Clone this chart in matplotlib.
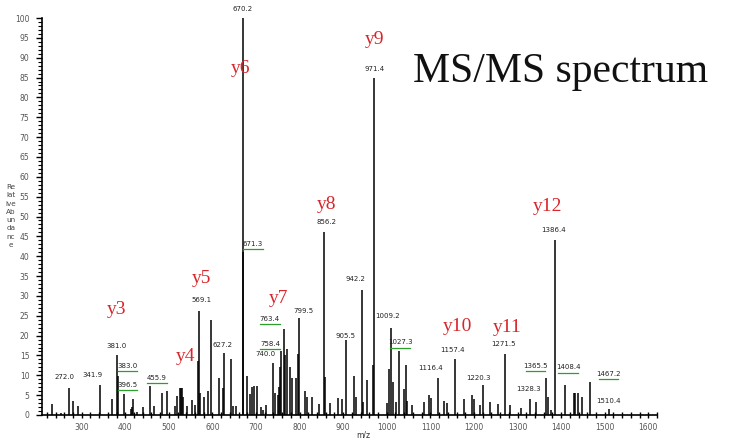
import matplotlib
matplotlib.use("Agg")
import matplotlib.pyplot as plt
from matplotlib.ticker import MultipleLocator, FixedLocator

# ---- data -------------------------------------------------------------
peak_mz = [233, 253, 272.0, 281, 292, 341.9, 370, 381.0, 383.0, 396.5, 413, 416, 418, 428, 440,
           455.9, 465, 484, 495, 514, 519.5, 526, 528, 530, 533, 542, 552.5, 560, 567.7, 569.1,
           571, 580.7, 590, 597.5, 615.8, 623.5, 627.2, 642.7, 648, 653.5, 670.2, 671.3, 678.7,
           686, 691.6, 696, 701.6, 711.6, 717, 723, 740.0, 743, 750, 753, 755, 758.4, 763.4, 766,
           770.6, 778, 783.5, 792, 797, 799.5, 812.6, 816, 828, 844.7, 856.2, 858, 870, 889, 896.5,
           905.5, 925.6, 930, 942.2, 946, 955.6, 968, 971.4, 1000, 1006, 1009.2, 1015, 1021, 1027.3,
           1039, 1044, 1047, 1059, 1084.4, 1096, 1102, 1116.4, 1131.5, 1139, 1157.4, 1178, 1195,
           1199, 1214, 1220.3, 1236, 1256.3, 1271.5, 1283, 1308.7, 1328.3, 1342, 1365.5, 1370,
           1376, 1386.4, 1408.4, 1429, 1433, 1438, 1448, 1467.2, 1510.4]
peak_int = [2.7, 0.6, 6.7, 3.5, 2.3, 7.5, 4, 15, 9.8, 5.2, 1.5, 2.0, 4.0, 0.8, 2,
            7.3, 2.3, 5.6, 6, 2.2, 4.9, 6.7, 6.7, 6.7, 4.5, 2.2, 3.8, 2.5, 13.5, 26.3,
            5.6, 4.5, 6, 24, 9.3, 6.8, 15.7, 14, 2.2, 2.2, 100, 41, 9.7,
            5.3, 7, 7.3, 7.3, 2, 1.3, 2.5, 13, 5.6, 5, 7, 12, 16.2, 21.6, 15,
            16.7, 12, 9.4, 9.4, 15.3, 24.5, 6, 4.5, 4.6, 2.8, 46, 9.5, 3, 4.4, 4,
            19, 9.8, 4.5, 31.5, 3.2, 8.7, 12.5, 84.8, 3, 11.6, 22, 8.3, 3.3, 16,
            6.5, 12.5, 3.5, 2.5, 3.3, 5, 4.4, 9.3, 3.5, 3, 14, 4, 5,
            4, 2.5, 7.5, 3.3, 2.7, 15.3, 2.5, 1.8, 4, 3.2, 9.4, 4.5,
            1.2, 44, 7.5, 5.5, 5.5, 5.5, 4.5, 8.2, 1.5]

# peak labels: text, x (m/z), y (intensity), green leader?
label_text = ["272.0", "341.9", "381.0", "383.0", "396.5", "455.9", "569.1", "627.2", "670.2",
              "671.3", "740.0", "758.4", "763.4", "799.5", "856.2", "905.5", "942.2", "971.4",
              "1009.2", "1027.3", "1116.4", "1157.4", "1220.3", "1271.5", "1328.3", "1365.5",
              "1386.4", "1408.4", "1467.2", "1510.4"]
label_x = [261.6, 325.9, 381, 406, 406, 472.8, 576, 622, 670.2,
           693, 720.7, 732, 732, 807.9, 860.7, 904.3, 927, 973,
           1000.7, 1030.5, 1099.4, 1149.9, 1209.6, 1267, 1324.3, 1340.4,
           1381.7, 1416, 1508, 1508]
label_y = [8.8, 9.3, 16.6, 11.6, 6.8, 8.6, 28.2, 16.9, 101.5,
           42.3, 14.6, 17.1, 23.4, 25.4, 47.9, 19.1, 33.5, 86.4,
           24.2, 17.6, 11.1, 15.6, 8.6, 17.1, 5.8, 11.6,
           45.8, 11.3, 9.6, 2.8]
label_green = [False, False, False, True, True, True, False, False, False,
               True, False, True, True, False, False, False, False, False,
               False, True, False, False, False, False, False, True,
               False, True, True, False]

ion_names = ["y3", "y4", "y5", "y6", "y7", "y8", "y9", "y10", "y11", "y12"]
ion_x = [380, 538, 576, 664, 751, 862, 971, 1162, 1276, 1368]
ion_y = [26.5, 14.7, 34.3, 87.2, 29.3, 52.9, 94.5, 22.2, 22.0, 52.4]

x_ticks = [300, 400, 500, 600, 700, 800, 900, 1000, 1100, 1200, 1300, 1400, 1500, 1600]
y_ticks = list(range(0, 101, 5))

# ---- figure -----------------------------------------------------------
W, H = 731, 438
fig = plt.figure(figsize=(W / 100, H / 100), dpi=100)
ax = fig.add_axes([42 / W, (H - 415) / H, (657 - 42) / W, (415 - 18) / H])

ax.vlines(peak_mz, 0, peak_int, colors="black", linewidth=1.1)

ax.set_xlim(209, 1620)
ax.set_ylim(0, 100)
for s in ("top", "right"):
    ax.spines[s].set_visible(False)
for s in ("left", "bottom"):
    ax.spines[s].set_linewidth(1.2)

ax.xaxis.set_major_locator(FixedLocator(x_ticks))
ax.xaxis.set_minor_locator(MultipleLocator(20))
ax.yaxis.set_major_locator(FixedLocator(y_ticks))
ax.yaxis.set_minor_locator(MultipleLocator(1))
ax.tick_params(axis="x", which="major", direction="inout", length=5, width=1, labelsize=5.5,
               labelcolor="#555555", pad=3)
ax.tick_params(axis="x", which="minor", direction="inout", length=4, width=1)
ax.tick_params(axis="y", which="major", direction="out", length=4, width=1, labelsize=5.5,
               labelcolor="#555555", pad=5)
ax.tick_params(axis="y", which="minor", direction="out", length=3, width=0.8)
ax.set_xticklabels([str(t) for t in x_ticks])
ax.set_yticklabels([str(t) for t in y_ticks])

# peak m/z labels
for t, x, y, g in zip(label_text, label_x, label_y, label_green):
    ax.text(x, y, t, fontsize=5, color="#222222", ha="center", va="bottom", clip_on=False)
    if g:
        ax.plot([x - 22, x + 22], [y - 0.6, y - 0.6], color="#2aa02a", linewidth=0.9,
                clip_on=False)

# fragment ion names
for n, x, y in zip(ion_names, ion_x, ion_y):
    ax.text(x, y, n, fontsize=14, color="#d8262b", family="Liberation Serif",
            ha="center", va="center", clip_on=False)

fig.text(413 / W, 1 - 72 / H, "MS/MS spectrum", fontsize=30, family="Liberation Serif",
         color="#111111", ha="left", va="center")

# stacked y-axis label
fig.text(11 / W, 1 - 216 / H, "Re\nlat\nive\nAb\nun\nda\nnc\ne", fontsize=5.2,
         color="#444444", ha="center", va="center", linespacing=1.45)

fig.text(363 / W, 1 - 430 / H, "m/z", fontsize=5.5, color="#333333", ha="center", va="top")

fig.savefig("out.png", dpi=100)
